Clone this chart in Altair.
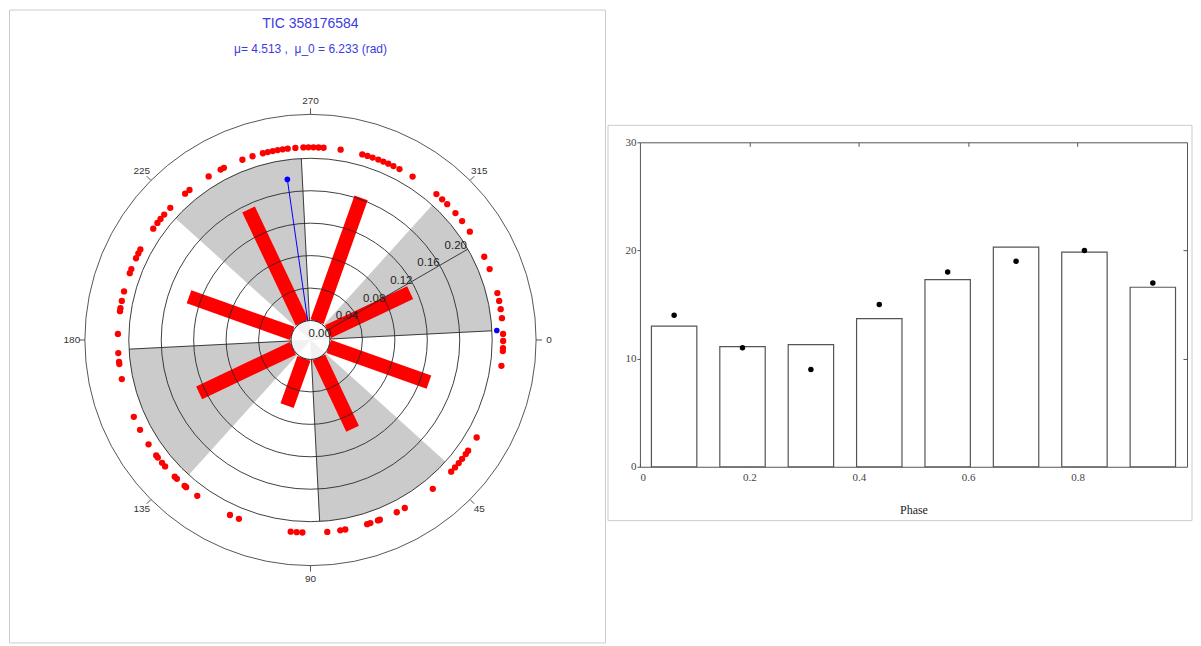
import math
import numpy as np
import pandas as pd
import altair as alt

# ---------------- data ----------------
title_text = "TIC 358176584"
subtitle_text = "\u03bc= 4.513 ,\u00a0 \u03bc_0 = 6.233 (rad)"

mu0_deg = 357.1          # mu_0 direction (deg, clockwise from 3 o'clock)
mu_deg = 261.8           # mean direction as drawn
mu_length = 0.176        # length of the blue mean vector
mu0_marker_length = 0.206

bar_angles_deg = [19.6, 64.6, 109.6, 154.6, 199.6, 244.6, 289.6, 334.6]
bar_lengths = [0.131, 0.097, 0.062, 0.128, 0.135, 0.154, 0.162, 0.112]

event_angles_deg = [
    267.9, 269.4, 270.9, 272.4, 273.9, 279.0,
    285.6, 287.2, 288.8, 290.6, 292.2, 293.8, 295.5, 297.5, 302.0,
    310.8, 313.1, 315.2, 318.8, 321.9, 325.8, 334.4, 338.4,
    345.9, 348.3, 350.8, 353.5, 358.2, 0.3, 2.4, 3.3, 7.7,
    30.4, 35.1, 36.3, 38.1, 39.7, 41.4, 43.1, 50.6, 60.7, 63.4,
    68.9, 69.5, 71.9, 72.9, 79.6, 81.1, 85.0, 92.4, 94.1, 95.9,
    111.8, 114.7, 126.0, 130.2, 130.8, 133.9, 134.8,
    139.0, 140.4, 142.4, 143.2, 147.2, 152.2, 156.5,
    168.3, 172.8, 173.5, 176.1, 181.8, 188.6, 189.5, 191.7, 194.6,
    200.3, 201.6, 205.1, 206.7, 208.0, 215.3, 217.4, 218.9, 220.6, 223.3,
    229.4, 231.1, 238.1, 242.2, 243.3, 249.3, 252.5,
    255.7, 257.2, 258.7, 260.2, 261.7, 263.2, 265.5,
]

ring_values = [0.04, 0.08, 0.12, 0.16, 0.20]
ring_label_values = [0.00, 0.04, 0.08, 0.12, 0.16, 0.20]
ring_label_texts = ["0.00", "0.04", "0.08", "0.12", "0.16", "0.20"]
angle_tick_values = [0, 45, 90, 135, 180, 225, 270, 315]
angle_tick_texts = ["0", "45", "90", "135", "180", "225", "270", "315"]

phase_centers = [0.0625, 0.1875, 0.3125, 0.4375, 0.5625, 0.6875, 0.8125, 0.9375]
model_counts = [13.0, 11.1, 11.3, 13.7, 17.3, 20.3, 19.85, 16.6]
observed_counts = [14, 11, 9, 15, 18, 19, 20, 17]

# ---------------- geometry (layout) ----------------
PX = 812.5                 # pixels per radial unit
R0 = 19.5 / PX             # hole radius (value 0.00 sits here)
DOT_R = 193 / PX
OUTER_R = 226 / PX
TICK_R = 232 / PX
LABEL_R = 239 / PX
W_L, H_L = 597, 634
CX, CY = 302, 331

xs = alt.Scale(domain=[-CX / PX, (W_L - CX) / PX], nice=False, zero=False)
ys = alt.Scale(domain=[-(H_L - CY) / PX, CY / PX], nice=False, zero=False)
th_scale = alt.Scale(domain=[0, 360], range=[math.pi / 2, math.pi / 2 + 2 * math.pi])
rad_scale = alt.Scale(type="linear", domain=[0, 1], range=[0, PX], zero=False)


def pol(a_deg, r):
    a = np.radians(np.asarray(a_deg, dtype=float))
    r = np.asarray(r, dtype=float)
    return r * np.cos(a), -r * np.sin(a)


def X(f):
    return alt.X(f, type="quantitative", scale=xs, axis=None)


def Y(f):
    return alt.Y(f, type="quantitative", scale=ys, axis=None)


CENTER_X = alt.X(datum=0, type="quantitative", scale=xs, axis=None)
CENTER_Y = alt.Y(datum=0, type="quantitative", scale=ys, axis=None)

SANS = "Liberation Sans"
SERIF = "Liberation Serif"

# gray sectors
sec_start = [mu0_deg + 45 + 90 * j for j in range(4)]
sectors_df = pd.DataFrame({"a0": sec_start, "a1": [s + 45 for s in sec_start], "r": [R0 + 0.20] * 4})
sectors = alt.Chart(sectors_df).mark_arc(fill="#cbcbcb", stroke="#cbcbcb", strokeWidth=0.5).encode(
    x=CENTER_X, y=CENTER_Y,
    theta=alt.Theta("a0:Q", scale=th_scale, stack=False), theta2="a1:Q",
    radius=alt.Radius("r:Q", scale=rad_scale),
)

# red bars
bx0, by0 = pol(bar_angles_deg, [R0] * len(bar_angles_deg))
bx1, by1 = pol(bar_angles_deg, [R0 + v for v in bar_lengths])
bars_df = pd.DataFrame({"x0": bx0, "y0": by0, "x1": bx1, "y1": by1})
red_bars = alt.Chart(bars_df).mark_rule(color="#ff0000", strokeWidth=14, strokeCap="butt").encode(
    x=X("x0"), y=Y("y0"), x2="x1", y2="y1"
)

# rings
rings_df = pd.DataFrame({"r": [R0 + v for v in ring_values], "a0": 0, "a1": 360})
rings = alt.Chart(rings_df).mark_arc(fillOpacity=0, stroke="#2a2a2a", strokeWidth=0.9).encode(
    x=CENTER_X, y=CENTER_Y,
    theta=alt.Theta("a0:Q", scale=th_scale, stack=False), theta2="a1:Q",
    radius=alt.Radius("r:Q", scale=rad_scale),
)
outer_df = pd.DataFrame({"r": [OUTER_R], "a0": [0], "a1": [360]})
outer = alt.Chart(outer_df).mark_arc(fillOpacity=0, stroke="#444", strokeWidth=0.9).encode(
    x=CENTER_X, y=CENTER_Y,
    theta=alt.Theta("a0:Q", scale=th_scale, stack=False), theta2="a1:Q",
    radius=alt.Radius("r:Q", scale=rad_scale),
)

# radial grid lines (every 90 deg from mu_0) and radial axis line
grid_angles = [mu0_deg + 90 * k for k in range(4)] + [330.0]
gx0, gy0 = pol(grid_angles, [R0] * 5)
gx1, gy1 = pol(grid_angles, [R0 + 0.20] * 5)
grid_df = pd.DataFrame({"x0": gx0, "y0": gy0, "x1": gx1, "y1": gy1})
grid = alt.Chart(grid_df).mark_rule(color="#2a2a2a", strokeWidth=0.9).encode(
    x=X("x0"), y=Y("y0"), x2="x1", y2="y1"
)

# hole
hole_df = pd.DataFrame({"r": [R0], "a0": [0], "a1": [360]})
hole = alt.Chart(hole_df).mark_arc(fill="white", fillOpacity=0.72, stroke="#222", strokeWidth=1).encode(
    x=CENTER_X, y=CENTER_Y,
    theta=alt.Theta("a0:Q", scale=th_scale, stack=False), theta2="a1:Q",
    radius=alt.Radius("r:Q", scale=rad_scale),
)

# radial labels
lx, ly = pol([327.0] * len(ring_label_values), [R0 + v - 0.0105 for v in ring_label_values])
rlab_df = pd.DataFrame({"x": lx, "y": ly, "t": ring_label_texts})
rlabels = alt.Chart(rlab_df).mark_text(font=SANS, fontSize=11.5, color="#222", align="center", baseline="middle").encode(
    x=X("x"), y=Y("y"), text="t:N"
)

# angle ticks and labels
tx0, ty0 = pol(angle_tick_values, [OUTER_R] * 8)
tx1, ty1 = pol(angle_tick_values, [TICK_R] * 8)
tlx, tly = pol(angle_tick_values, [LABEL_R] * 8)
atick_df = pd.DataFrame({"x0": tx0, "y0": ty0, "x1": tx1, "y1": ty1, "lx": tlx, "ly": tly, "t": angle_tick_texts})
aticks = alt.Chart(atick_df).mark_rule(color="#444", strokeWidth=0.9).encode(
    x=X("x0"), y=Y("y0"), x2="x1", y2="y1"
)
alabels = alt.Chart(atick_df).mark_text(font=SANS, fontSize=10, color="#333", align="center", baseline="middle").encode(
    x=X("lx"), y=Y("ly"), text="t:N"
)

# event dots
ex, ey = pol(event_angles_deg, [DOT_R] * len(event_angles_deg))
dots_df = pd.DataFrame({"x": ex, "y": ey})
dots = alt.Chart(dots_df).mark_circle(color="#ff0000", size=40, opacity=1).encode(x=X("x"), y=Y("y"))

# blue mean vector
mx0, my0 = pol([mu_deg], [R0])
mx1, my1 = pol([mu_deg], [R0 + mu_length])
mu_df = pd.DataFrame({"x0": mx0, "y0": my0, "x1": mx1, "y1": my1})
mu_line = alt.Chart(mu_df).mark_rule(color="#0000ff", strokeWidth=1).encode(
    x=X("x0"), y=Y("y0"), x2="x1", y2="y1"
)
bdx, bdy = pol([mu_deg, mu0_deg], [R0 + mu_length, R0 + mu0_marker_length])
bd_df = pd.DataFrame({"x": bdx, "y": bdy})
blue_dots = alt.Chart(bd_df).mark_circle(color="#0000ff", size=32, opacity=1).encode(x=X("x"), y=Y("y"))

# titles
tt_df = pd.DataFrame({"t": [title_text, subtitle_text]})
title1 = alt.Chart(tt_df.iloc[[0]]).mark_text(font=SANS, fontSize=14, color="#3c3ce0", align="center", baseline="middle").encode(
    x=CENTER_X, y=alt.value(14), text="t:N"
)
title2 = alt.Chart(tt_df.iloc[[1]]).mark_text(font=SANS, fontSize=12, color="#3c3ce0", align="center", baseline="middle").encode(
    x=CENTER_X, y=alt.value(40), text="t:N"
)

left = alt.layer(
    sectors, red_bars, rings, grid, outer, hole, rlabels, aticks, alabels,
    dots, mu_line, blue_dots, title1, title2
).properties(
    width=W_L, height=H_L,
    view=alt.ViewBackground(stroke="#cccccc", strokeWidth=1, fill="white"),
)

# ---------------- right panel: phase histogram ----------------
hist_df = pd.DataFrame({"phase": phase_centers, "model": model_counts, "obs": observed_counts})
xs2 = alt.Scale(domain=[0, 1], nice=False, zero=False)
ys2 = alt.Scale(domain=[0, 30], nice=False, zero=False)
W_R, H_R = 548, 325

hbars = alt.Chart(hist_df).transform_calculate(
    p0="datum.phase - 0.0415", p1="datum.phase + 0.0415"
).mark_rect(fill="white", stroke="#555", strokeWidth=1.2).encode(
    x=alt.X("p0:Q", scale=xs2, title="Phase", axis=alt.Axis(
        orient="bottom", values=[0, 0.2, 0.4, 0.6, 0.8], offset=-4, tickSize=4, tickColor="#555",
        labelExpr="datum.value == 0 ? '0' : format(datum.value, '.1f')",
        domain=False, grid=False, labelPadding=5, labelFont=SERIF, labelFontSize=11, labelColor="#444",
        titleFont=SERIF, titleFontSize=12, titleFontWeight="normal", titleColor="#222", titlePadding=22)),
    x2="p1:Q",
    y=alt.Y("model:Q", scale=ys2, title=None, axis=alt.Axis(
        orient="left", values=[0, 10, 20, 30], tickSize=3, tickColor="#555", domain=False, grid=False,
        labelPadding=1, labelFont=SERIF, labelFontSize=11, labelColor="#444")),
    y2=alt.Y2(datum=0),
)
hpoints = alt.Chart(hist_df).mark_circle(color="black", size=30, opacity=1).encode(
    x=alt.X("phase:Q", scale=xs2, title=None, axis=alt.Axis(
        orient="top", values=[0.2, 0.4, 0.6, 0.8], offset=-4, tickSize=4, tickColor="#555",
        labels=False, domain=False, grid=False)),
    y=alt.Y("obs:Q", scale=ys2, title=None, axis=alt.Axis(
        orient="right", values=[10, 20], offset=-4, tickSize=4, tickColor="#555",
        labels=False, domain=False, grid=False)),
)
box = alt.Chart(pd.DataFrame({"k": [0]})).mark_rect(fillOpacity=0, stroke="#cccccc", strokeWidth=1).encode(
    x=alt.value(-32), x2=alt.value(553), y=alt.value(-17), y2=alt.value(379)
)
right = alt.layer(hbars, hpoints, box).resolve_axis(x="independent", y="independent").properties(
    width=W_R, height=H_R,
    view=alt.ViewBackground(stroke="#555", strokeWidth=1, fill="white"),
)

spacer = alt.Chart(pd.DataFrame({"v": [0]})).mark_point(opacity=0).encode(
    x=alt.X("v:Q", axis=None), y=alt.Y("v:Q", axis=None)
).properties(width=W_R, height=113, view=alt.ViewBackground(strokeOpacity=0))

right_col = alt.vconcat(spacer, right, spacing=20, bounds="flush")

chart = alt.hconcat(left, right_col, spacing=35, bounds="flush").properties(
    padding=0, background="white"
)

chart.save("out.html", embed_options={"renderer": "svg", "actions": False})
